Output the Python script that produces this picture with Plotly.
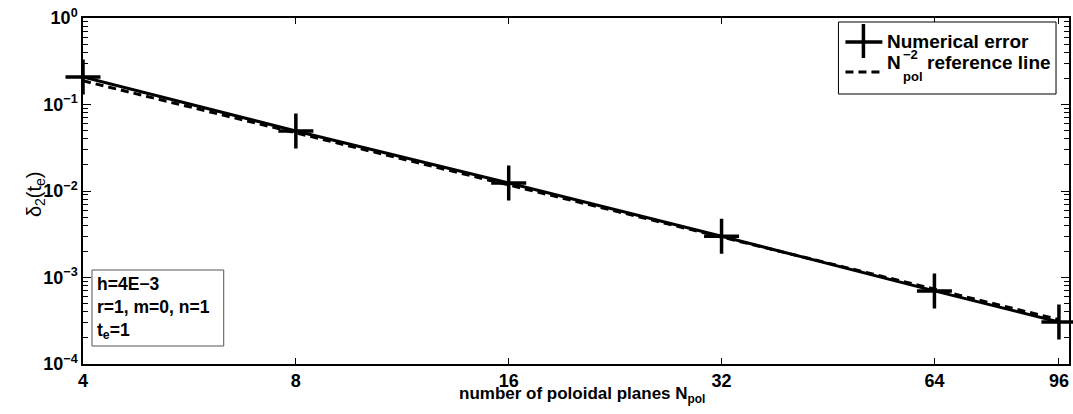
import math
import plotly.graph_objects as go

# Data
n_pol = [4, 8, 16, 32, 64, 96]
num_error = [0.208, 0.0494, 0.0124, 0.0030, 0.00070, 0.000306]
ref_line = [0.188, 0.047, 0.0117, 0.00293, 0.000732, 0.000326]
x_ticks = [4, 8, 16, 32, 64, 96]
y_ticks = [1e-4, 1e-3, 1e-2, 1e-1, 1]
y_ticktext = ["10<sup>−4</sup>", "10<sup>−3</sup>", "10<sup>−2</sup>", "10<sup>−1</sup>", "10<sup>0</sup>"]
minor_y = [m * 10.0 ** k for k in range(-4, 0) for m in range(2, 10)]

FONT = "Liberation Sans, Arial, Helvetica, sans-serif"

W, H = 1073, 414
ML, MR, MT, MB = 83, 2, 18, 50
PW, PH = W - ML - MR, H - MT - MB


def px(xs):
    return (xs - ML) / PW


def py(ys):
    return 1 - (ys - MT) / PH


fig = go.Figure()
fig.add_trace(go.Scatter(
    x=n_pol, y=ref_line, mode="lines",
    line=dict(color="black", width=3, dash="8px,5px"),
    name="N<sup>−2</sup><sub>pol</sub> reference line",
    cliponaxis=False, showlegend=False,
))
fig.add_trace(go.Scatter(
    x=n_pol, y=num_error, mode="lines+markers",
    line=dict(color="black", width=3),
    marker=dict(symbol="cross-thin", size=25, color="black",
                line=dict(color="black", width=3.5)),
    name="Numerical error",
    cliponaxis=False, showlegend=False,
))

fig.update_layout(
    width=W, height=H,
    margin=dict(l=ML, r=MR, t=MT, b=MB),
    plot_bgcolor="white", paper_bgcolor="white",
    font=dict(family=FONT, color="black"),
    showlegend=False,
    xaxis=dict(
        type="log", range=[math.log10(4) - 1e-6, math.log10(99.2)],
        tickmode="array", tickvals=x_ticks, ticktext=[str(v) for v in x_ticks],
        ticks="inside", ticklen=6, tickwidth=1, tickcolor="black",
        showline=True, linecolor="black", linewidth=1.5, mirror="allticks",
        showgrid=False, zeroline=False, ticklabeloverflow="allow",
        tickfont=dict(size=18, family=FONT, weight="bold"),
    ),
    yaxis=dict(
        type="log", range=[-4, 0],
        tickmode="array", tickvals=y_ticks, ticktext=y_ticktext,
        ticks="inside", ticklen=8, tickwidth=1, tickcolor="black",
        showline=True, linecolor="black", linewidth=1.5, mirror="allticks",
        showgrid=False, zeroline=False, ticklabeloverflow="allow",
        tickfont=dict(size=18, family=FONT, weight="bold"),
        minor=dict(tickmode="array", tickvals=minor_y, ticks="inside",
                   ticklen=5, tickcolor="black", showgrid=False),
    ),
)

ann_font = dict(family=FONT, weight="bold", color="black")

# axis titles
fig.add_annotation(
    xref="paper", yref="paper", x=px(583), y=py(395), xanchor="center", yanchor="middle",
    text="number of poloidal planes N<sub>pol</sub>", showarrow=False,
    font=dict(size=17, **ann_font),
)
fig.add_annotation(
    xref="paper", yref="paper", x=px(35), y=py(194), xanchor="center", yanchor="middle",
    text="δ<sub>2</sub>(t<sub>e</sub>)", showarrow=False, textangle=-90,
    font=dict(size=20, family=FONT, color="black"),
)

# parameter box
fig.add_shape(type="rect", xref="paper", yref="paper",
              x0=px(92), x1=px(224), y0=py(346), y1=py(270),
              line=dict(color="#555555", width=1), fillcolor="white", layer="above")
fig.add_annotation(
    xref="paper", yref="paper", x=px(95), y=py(308), xanchor="left", yanchor="middle",
    text="h=4E−3<br>r=1, m=0, n=1<br>t<sub>e</sub>=1",
    showarrow=False, align="left",
    font=dict(size=17.5, **ann_font),
)

# legend (drawn by hand to match the reference layout)
fig.add_shape(type="rect", xref="paper", yref="paper",
              x0=px(840), x1=px(1058), y0=py(94), y1=py(22),
              line=dict(color="black", width=1), fillcolor="white", layer="above")
fig.add_shape(type="line", xref="paper", yref="paper",
              x0=px(847), x1=px(884), y0=py(42), y1=py(42),
              line=dict(color="black", width=3.5), layer="above")
fig.add_shape(type="line", xref="paper", yref="paper",
              x0=px(865), x1=px(865), y0=py(24), y1=py(58),
              line=dict(color="black", width=3.5), layer="above")
fig.add_shape(type="line", xref="paper", yref="paper",
              x0=px(847), x1=px(885), y0=py(72), y1=py(72),
              line=dict(color="black", width=3, dash="8px,5px"), layer="above")
fig.add_annotation(
    xref="paper", yref="paper", x=px(887), y=py(42), xanchor="left", yanchor="middle",
    text="Numerical error", showarrow=False, font=dict(size=19, **ann_font),
)
fig.add_annotation(
    xref="paper", yref="paper", x=px(887), y=py(62), xanchor="left", yanchor="middle",
    text="N", showarrow=False, font=dict(size=19, **ann_font),
)
fig.add_annotation(
    xref="paper", yref="paper", x=px(903), y=py(54), xanchor="left", yanchor="middle",
    text="−2", showarrow=False, font=dict(size=13, **ann_font),
)
fig.add_annotation(
    xref="paper", yref="paper", x=px(903), y=py(76), xanchor="left", yanchor="middle",
    text="pol", showarrow=False, font=dict(size=13, **ann_font),
)
fig.add_annotation(
    xref="paper", yref="paper", x=px(927), y=py(62), xanchor="left", yanchor="middle",
    text="reference line", showarrow=False, font=dict(size=19, **ann_font),
)

fig.write_html(
    "out.html",
    config={"displayModeBar": False},
    post_script="document.body.style.margin='0';document.body.style.overflow='hidden';",
)
